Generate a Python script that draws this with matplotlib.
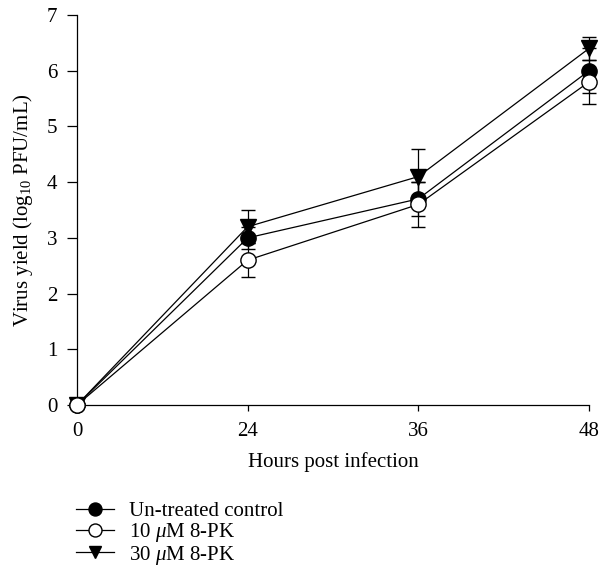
import matplotlib
matplotlib.use('Agg')
import matplotlib.pyplot as plt
import numpy as np

plt.rcParams['font.family'] = ['Liberation Serif', 'DejaVu Serif']
plt.rcParams['mathtext.fontset'] = 'custom'
plt.rcParams['mathtext.rm'] = 'Liberation Serif'
plt.rcParams['mathtext.it'] = 'Liberation Serif:italic'

# data
hours = ['0', '24', '36', '48']
control = [0, 3.0, 3.7, 6.0]
control_err = [0, 0.2, 0.3, 0.4]
pk10 = [0, 2.6, 3.6, 5.8]
pk10_err = [0, 0.3, 0.4, 0.4]
pk30 = [0, 3.2, 4.1, 6.4]
pk30_err = [0, 0.3, 0.5, 0.2]

labels = ['Un-treated control', r'10 $\mu$M 8-PK', r'30 $\mu$M 8-PK']

fs = 15
fig = plt.figure(figsize=(6.08, 5.71), dpi=100)
ax = fig.add_axes([0.1266, 0.2907, 0.9688 - 0.1266, 0.9737 - 0.2907])

x = np.arange(len(hours))
series = [
    (pk30, pk30_err, 'v', 'black', 3),
    (control, control_err, 'o', 'black', 4),
    (pk10, pk10_err, 'o', 'white', 5),
]
handles = {}
for i, (y, e, m, fc, z) in enumerate(series):
    cont = ax.errorbar(x, y, yerr=e, color='black', lw=0.9, marker=m, ms=11,
                       mfc=fc, mec='black', mew=1.0, capsize=4.7, capthick=0.9,
                       elinewidth=0.9, zorder=z, clip_on=False)
    for art in cont.lines[1] + cont.lines[2]:
        art.set_clip_on(False)
    handles[i] = cont[0]

ax.set_xlim(0, 3)
ax.set_ylim(0, 7)
ax.set_xticks(x)
ax.set_xticklabels(hours)
ax.set_yticks(range(0, 8))
ax.spines['top'].set_visible(False)
ax.spines['right'].set_visible(False)
for s in ['left', 'bottom']:
    ax.spines[s].set_linewidth(0.9)
ax.tick_params(axis='y', direction='out', length=7, width=0.9, pad=7, labelsize=fs)
ax.tick_params(axis='x', direction='out', length=4.5, width=0.9, pad=8, labelsize=fs)
ax.set_xlabel('Hours post infection', fontsize=fs, labelpad=8)
ax.set_ylabel(r'Virus yield (log$_{10}$ PFU/mL)', fontsize=fs, labelpad=9)

fig.legend([handles[1], handles[2], handles[0]], labels, loc='upper left',
           bbox_to_anchor=(0.125, 0.121), frameon=False, fontsize=fs,
           borderpad=0, borderaxespad=0, handlelength=1.8, handletextpad=0.75,
           labelspacing=-0.02, markerscale=0.85)

fig.savefig('out.png', dpi=100)
